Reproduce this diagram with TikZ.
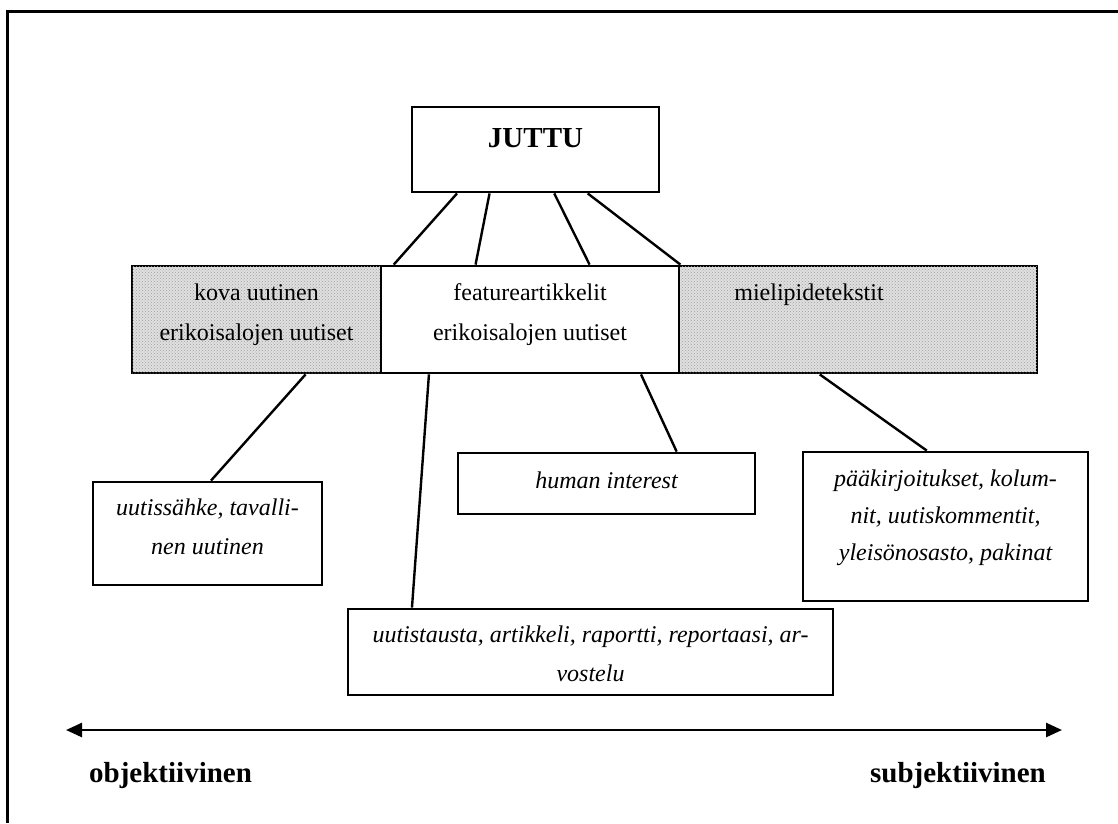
\documentclass[tikz,border=0pt]{standalone}
\usepackage{fontspec}
\setmainfont{Liberation Serif}
\usetikzlibrary{calc,patterns,arrows.meta}

\tikzset{
  bx/.style={draw, line width=2.8pt, inner sep=0pt, fill=white},
  shaded/.style={bx, fill=gray!24, postaction={pattern=crosshatch dots, pattern color=gray!75}},
  link/.style={line width=2.4pt},
  txt/.style={inner sep=0pt, anchor=base, font=\fontsize{24}{28}\selectfont},
  itxt/.style={txt, font=\fontsize{24}{28}\selectfont\itshape},
  btxt/.style={txt, font=\fontsize{29}{33}\selectfont\bfseries},
}

\begin{document}
\begin{tikzpicture}[x=1pt, y=-1pt]
\useasboundingbox (0,0) rectangle (1118,823);

% outer frame (top and left edges)
\draw[line width=3pt] (7,823) -- (7,11) -- (1118,11);

% top box
\node[bx, minimum width=247pt, minimum height=85pt] (juttu) at (535.5,149.5) {};
\node[btxt] (juttut) at (535.5,147) {JUTTU};

% main categories
\node[shaded, minimum width=249pt, minimum height=107pt] (hard) at (256.5,319.5) {};
\node[shaded, minimum width=358pt, minimum height=107pt] (opin) at (858,319.5) {};
\node[bx, minimum width=298pt, minimum height=107pt] (feat) at (530,319.5) {};

\node[txt] (hard1) at (256.5,300) {kova uutinen};
\node[txt] (hard2) at (256.5,340) {erikoisalojen uutiset};
\node[txt] (feat1) at (530,300) {featureartikkelit};
\node[txt] (feat2) at (530,340) {erikoisalojen uutiset};
\node[txt] (opin1) at (809,300) {mielipidetekstit};

% sub genres
\node[bx, minimum width=229pt, minimum height=103pt] (flash) at (207.5,533.5) {};
\node[itxt] (flash1) at (207.5,515) {uutissähke, tavalli-};
\node[itxt] (flash2) at (207.5,554) {nen uutinen};

\node[bx, minimum width=297pt, minimum height=61pt] (human) at (606.5,483.5) {};
\node[itxt] (human1) at (606.5,488) {human interest};

\node[bx, minimum width=285pt, minimum height=149pt] (edit) at (945.5,526.5) {};
\node[itxt] (edit1) at (945.5,486) {pääkirjoitukset, kolum-};
\node[itxt] (edit2) at (945.5,523) {nit, uutiskommentit,};
\node[itxt] (edit3) at (945.5,560) {yleisönosasto, pakinat};

\node[bx, minimum width=485pt, minimum height=86pt] (back) at (590.5,652) {};
\node[itxt] (back1) at (590.5,642) {uutistausta, artikkeli, raportti, reportaasi, ar-};
\node[itxt] (back2) at (590.5,681) {vostelu};

% connectors from the top box
\draw[link] ($(juttu.south west)!0.186!(juttu.south east)$) -- ($(feat.north west)!0.047!(feat.north east)$);
\draw[link] ($(juttu.south west)!0.316!(juttu.south east)$) -- ($(feat.north west)!0.319!(feat.north east)$);
\draw[link] ($(juttu.south west)!0.575!(juttu.south east)$) -- ($(feat.north west)!0.698!(feat.north east)$);
\draw[link] ($(juttu.south west)!0.709!(juttu.south east)$) -- ($(feat.north west)!1.0!(feat.north east)$);

% connectors to the sub genres
\draw[link] ($(hard.south west)!0.695!(hard.south east)$) -- ($(flash.north west)!0.515!(flash.north east)$);
\draw[link] ($(feat.south west)!0.164!(feat.south east)$) -- ($(back.north west)!0.134!(back.north east)$);
\draw[link] ($(feat.south west)!0.869!(feat.south east)$) -- ($(human.north west)!0.734!(human.north east)$);
\draw[link] ($(opin.south west)!0.394!(opin.south east)$) -- ($(edit.north west)!0.435!(edit.north east)$);

% objective -- subjective axis
\coordinate (axl) at (66,730);
\coordinate (axr) at (1062,730);
\draw[line width=2.6pt, {Triangle[length=16pt,width=14pt]}-{Triangle[length=16pt,width=14pt]}] (axl) -- (axr);
\node[btxt, anchor=base west] (obj) at (89,782) {objektiivinen};
\node[btxt, anchor=base east] (subj) at (1046,782) {subjektiivinen};
\end{tikzpicture}
\end{document}
